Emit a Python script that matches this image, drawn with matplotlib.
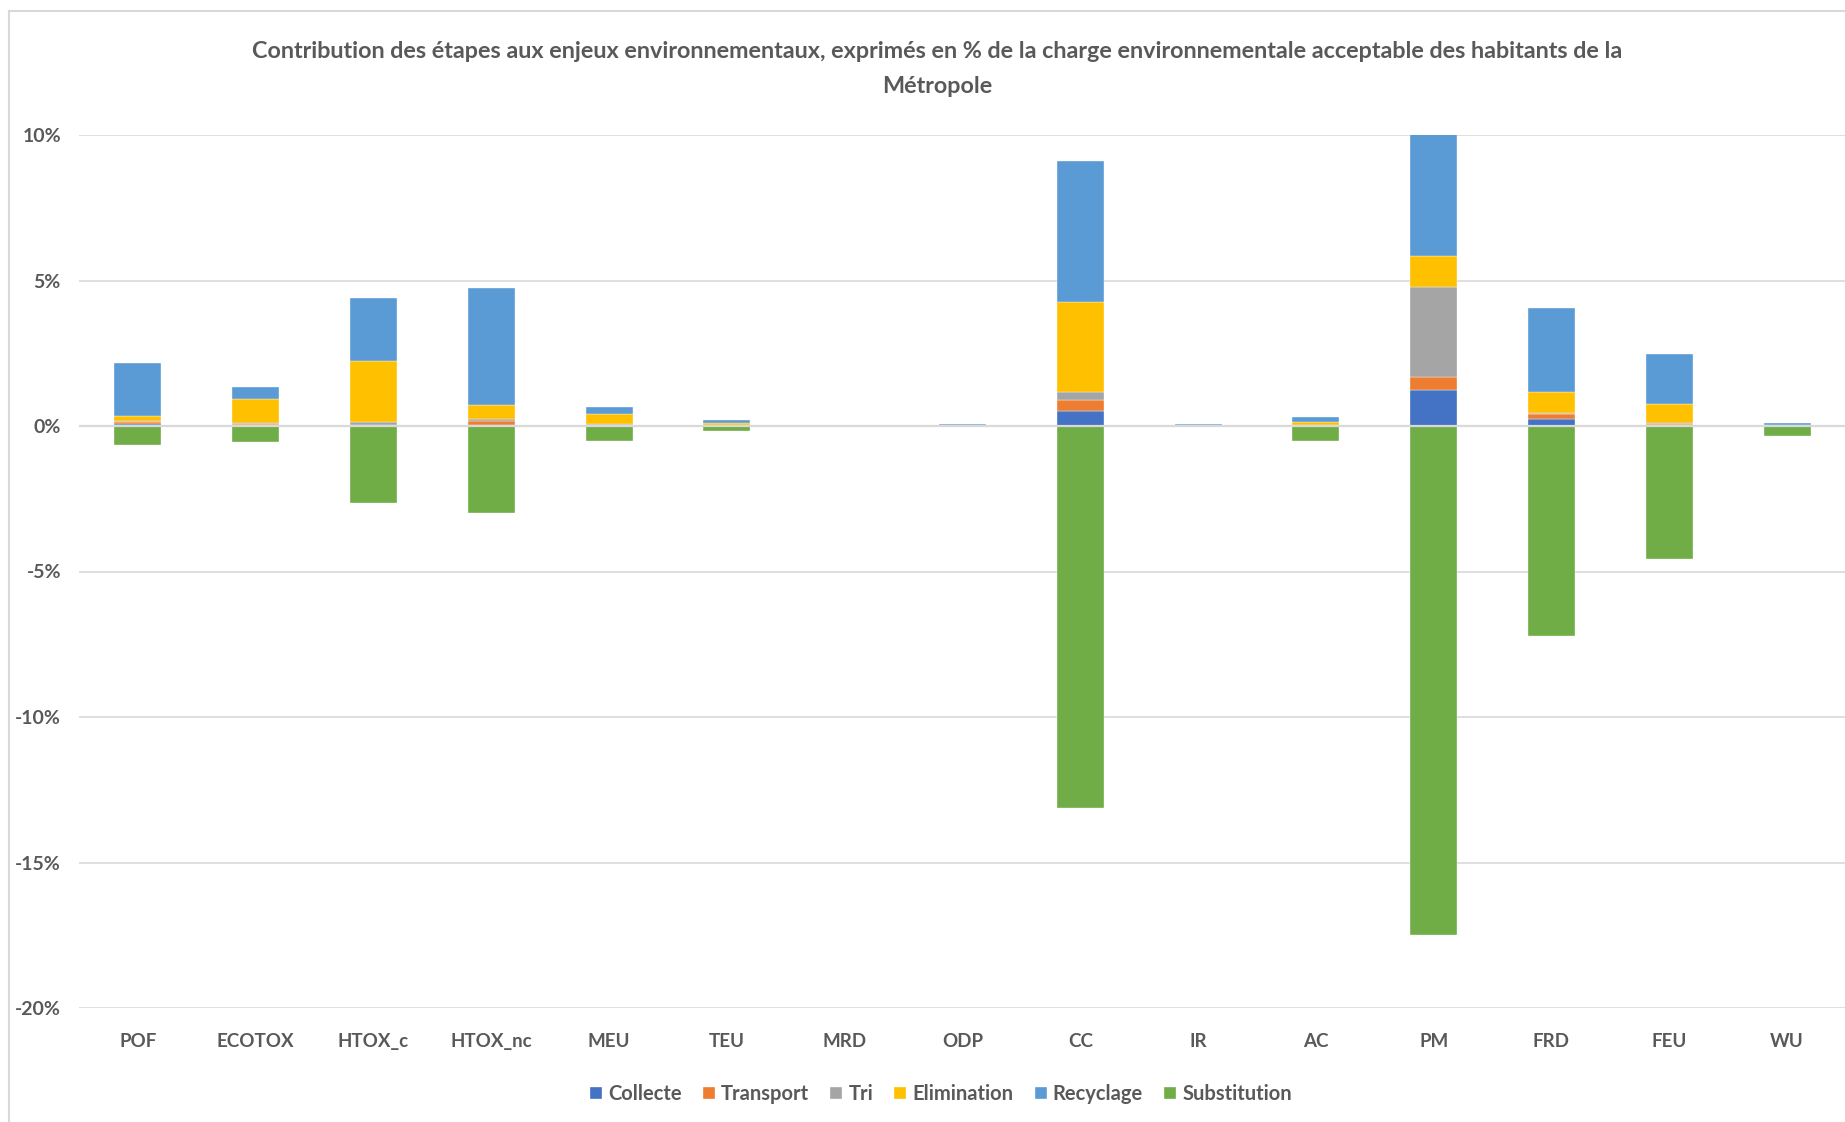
import numpy as np
import matplotlib.pyplot as plt
from matplotlib.lines import Line2D
from matplotlib.ticker import FuncFormatter

# ---------- Data (in % of acceptable environmental load) ----------
categories = ["POF", "ECOTOX", "HTOX_c", "HTOX_nc", "MEU", "TEU", "MRD", "ODP",
              "CC", "IR", "AC", "PM", "FRD", "FEU", "WU"]

collecte     = [0.08, 0.02, 0.02, 0.05, 0.03, 0.01, 0.0, 0.0, 0.53, 0.0, 0.01, 1.24, 0.25, 0.05, 0.01]
transport    = [0.06, 0.05, 0.03, 0.13, 0.01, 0.01, 0.0, 0.0, 0.37, 0.0, 0.01, 0.43, 0.15, 0.02, 0.0]
tri          = [0.02, 0.03, 0.08, 0.07, 0.02, 0.02, 0.0, 0.0, 0.27, 0.0, 0.01, 3.09, 0.06, 0.04, 0.0]
elimination  = [0.17, 0.82, 2.12, 0.48, 0.35, 0.08, 0.0, 0.01, 3.08, 0.01, 0.10, 1.09, 0.72, 0.66, 0.01]
recyclage    = [1.84, 0.41, 2.15, 4.00, 0.25, 0.07, 0.0, 0.06, 4.86, 0.05, 0.18, 4.55, 2.86, 1.70, 0.10]
substitution = [-0.67, -0.56, -2.64, -2.98, -0.53, -0.17, 0.0, 0.0, -13.13, 0.0, -0.50, -17.49, -7.23, -4.56, -0.35]

series_names = ["Collecte", "Transport", "Tri", "Elimination", "Recyclage", "Substitution"]
series_colors = ["#4472C4", "#ED7D31", "#A5A5A5", "#FFC000", "#5B9BD5", "#70AD47"]
series = [collecte, transport, tri, elimination, recyclage, substitution]

title = ("Contribution des étapes aux enjeux environnementaux, exprimés en % de la charge "
         "environnementale acceptable des habitants de la\nMétropole")

TEXT_COLOR = "#595959"
GRID_COLOR = "#D9D9D9"

plt.rcParams["font.family"] = ["Lato", "DejaVu Sans"]

# ---------- Plot ----------
fig = plt.figure(figsize=(18.45, 11.22), dpi=100)
ax = fig.add_axes([79 / 1845, 1 - 1008 / 1122, 1767 / 1845, 873 / 1122])

x = np.arange(len(categories))
pos_base = np.zeros(len(categories))
neg_base = np.zeros(len(categories))
for name, color, vals in zip(series_names, series_colors, series):
    vals = np.array(vals, dtype=float)
    bottom = np.where(vals >= 0, pos_base, neg_base)
    ax.bar(x, vals, width=0.4, bottom=bottom, color=color, label=name,
           edgecolor="white", linewidth=0.25, zorder=2)
    pos_base += np.clip(vals, 0, None)
    neg_base += np.clip(vals, None, 0)

ax.set_xlim(-0.5, len(categories) - 0.5)
ax.set_ylim(-20, 10)
ax.set_yticks(np.arange(-20, 11, 5))
ax.yaxis.set_major_formatter(FuncFormatter(lambda v, p: f"{v:.0f}%"))
ax.set_xticks(x)
ax.set_xticklabels(categories)

ax.grid(axis="y", color=GRID_COLOR, linewidth=1.2, zorder=0)
ax.set_axisbelow(True)
ax.axhline(0, color=GRID_COLOR, linewidth=1.6, zorder=3)
for s in ax.spines.values():
    s.set_visible(False)
ax.tick_params(axis="y", length=0, colors=TEXT_COLOR, labelsize=14, pad=13)
ax.tick_params(axis="x", length=0, colors=TEXT_COLOR, labelsize=13.5, pad=18)
for lbl in ax.get_xticklabels() + ax.get_yticklabels():
    lbl.set_fontweight("bold")

fig.text(937 / 1845, 1 - 41 / 1122, title, ha="center", va="top", color=TEXT_COLOR,
         fontsize=16.8, fontweight="bold", linespacing=1.85)

handles, labels = ax.get_legend_handles_labels()
leg = fig.legend(handles, labels, loc="center", bbox_to_anchor=(941 / 1845, 1 - 1094 / 1122),
                 ncol=6, frameon=False, fontsize=14.5, handlelength=0.6, handleheight=0.6,
                 handletextpad=0.3, columnspacing=1.05)
for t in leg.get_texts():
    t.set_color(TEXT_COLOR)
    t.set_fontweight("bold")

# outer chart border (left and top edges)
fig.add_artist(Line2D([9 / 1845, 9 / 1845], [0, 1 - 11 / 1122], color=GRID_COLOR, linewidth=1.5))
fig.add_artist(Line2D([9 / 1845, 1], [1 - 11 / 1122, 1 - 11 / 1122], color=GRID_COLOR, linewidth=1.5))

fig.savefig("out.png", dpi=100, facecolor="white")
